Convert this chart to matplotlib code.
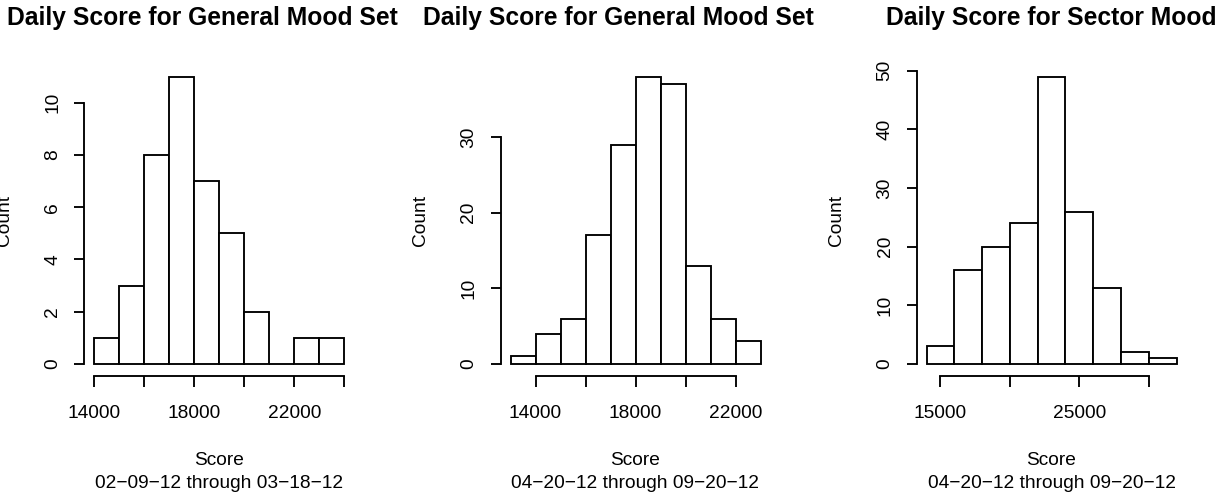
import matplotlib
matplotlib.use("Agg")
import matplotlib.pyplot as plt
import numpy as np

plt.rcParams['font.family'] = ['Liberation Sans', 'DejaVu Sans']

# ---- data -------------------------------------------------------------
edges_set1 = [14000, 15000, 16000, 17000, 18000, 19000, 20000, 21000, 22000, 23000, 24000]
counts_set1 = [1, 3, 8, 11, 7, 5, 2, 0, 1, 1]
xticks_set1 = [14000, 16000, 18000, 20000, 22000, 24000]
xlabels_set1 = ["14000", "", "18000", "", "22000", ""]
yticks_set1 = [0, 2, 4, 6, 8, 10]

edges_set2 = [13000, 14000, 15000, 16000, 17000, 18000, 19000, 20000, 21000, 22000, 23000]
counts_set2 = [1, 4, 6, 17, 29, 38, 37, 13, 6, 3]
xticks_set2 = [14000, 16000, 18000, 20000, 22000]
xlabels_set2 = ["14000", "", "18000", "", "22000"]
yticks_set2 = [0, 10, 20, 30]

edges_sector = [14000, 16000, 18000, 20000, 22000, 24000, 26000, 28000, 30000, 32000]
counts_sector = [3, 16, 20, 24, 49, 26, 13, 2, 1]
xticks_sector = [15000, 20000, 25000, 30000]
xlabels_sector = ["15000", "", "25000", ""]
yticks_sector = [0, 10, 20, 30, 40, 50]

titles = ["Daily Score for General Mood Set",
          "Daily Score for General Mood Set",
          "Daily Score for Sector Mood"]
periods = ["02\u221209\u221212 through 03\u221218\u221212",
           "04\u221220\u221212 through 09\u221220\u221212",
           "04\u221220\u221212 through 09\u221220\u221212"]

# ---- layout (pixels) --------------------------------------------------
W, H, DPI = 1228, 500, 100
PLOT_W = 270
PLOT_TOP, PLOT_BOT = 65.1, 375.5
lefts = [84.3, 500.5, 916.5]
title_x = [7, 422.7, None]

TXT = 13.8
TITLE = 17.7
LW = 1.35
TICK_LEN = 10.5 * 72 / DPI


def fx(px):
    return px / W


def fy(py):
    return 1 - py / H


fig = plt.figure(figsize=(W / DPI, H / DPI), dpi=DPI)

panels = [
    (edges_set1, counts_set1, xticks_set1, xlabels_set1, yticks_set1),
    (edges_set2, counts_set2, xticks_set2, xlabels_set2, yticks_set2),
    (edges_sector, counts_sector, xticks_sector, xlabels_sector, yticks_sector),
]

for i, (edges, counts, xt, xl, yt) in enumerate(panels):
    left = lefts[i]
    ax = fig.add_axes([fx(left), fy(PLOT_BOT), PLOT_W / W, (PLOT_BOT - PLOT_TOP) / H])
    edges = np.asarray(edges, dtype=float)
    ax.bar(edges[:-1], counts, width=np.diff(edges), align='edge',
           facecolor='white', edgecolor='black', linewidth=LW)

    # R-style 4% expansion of the data range
    xlo, xhi = edges[0], edges[-1]
    xp = 0.04 * (xhi - xlo)
    ymax = max(counts)
    yp = 0.04 * ymax
    ax.set_xlim(xlo - xp, xhi + xp)
    ax.set_ylim(-yp, ymax + yp)

    for s in ('top', 'right'):
        ax.spines[s].set_visible(False)
    for s in ('left', 'bottom'):
        ax.spines[s].set_linewidth(LW)
    ax.spines['left'].set_bounds(yt[0], yt[-1])
    ax.spines['bottom'].set_bounds(xt[0], xt[-1])

    ax.set_xticks(xt, xl)
    ax.set_yticks(yt, [str(v) for v in yt])
    ax.tick_params(axis='both', direction='out', length=TICK_LEN, width=LW,
                   labelsize=TXT, colors='black')
    ax.tick_params(axis='x', pad=32 * 72 / DPI)
    ax.tick_params(axis='y', pad=16.5 * 72 / DPI)
    for lbl in ax.get_xticklabels():
        lbl.set_va('baseline')
    for lbl in ax.get_yticklabels():
        lbl.set_rotation(90)
        lbl.set_rotation_mode('anchor')
        lbl.set_ha('center')
        lbl.set_va('baseline')

    cx = left + PLOT_W / 2

    # axis titles
    fig.text(fx(left - 75.5), fy((PLOT_TOP + PLOT_BOT) / 2), "Count",
             rotation=90, rotation_mode='anchor', ha='center', va='baseline',
             fontsize=TXT)
    fig.text(fx(cx), fy(465), "Score", ha='center', va='baseline', fontsize=TXT)
    fig.text(fx(cx), fy(488), periods[i], ha='center', va='baseline', fontsize=TXT)

    # main title
    if title_x[i] is None:
        fig.text(fx(cx), fy(25), titles[i], ha='center', va='baseline',
                 fontsize=TITLE, fontweight='bold')
    else:
        fig.text(fx(title_x[i]), fy(25), titles[i], ha='left', va='baseline',
                 fontsize=TITLE, fontweight='bold')

fig.savefig("out.png", dpi=DPI, facecolor='white')
